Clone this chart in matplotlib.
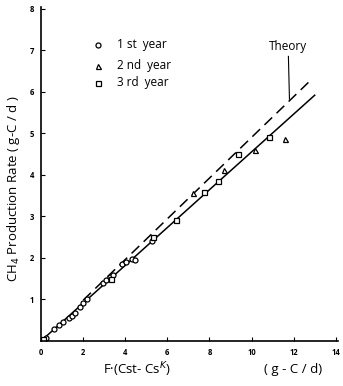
import numpy as np
import matplotlib.pyplot as plt

plt.rcParams['font.family'] = ['Open Sans', 'DejaVu Sans']

# 1st year (circles)
x1 = [0.25, 0.6, 0.85, 1.05, 1.3, 1.45, 1.6, 1.85, 2.0, 2.2, 2.95, 3.1, 3.25, 3.4, 3.85, 4.05, 4.3, 4.45, 5.25]
y1 = [0.08, 0.28, 0.38, 0.45, 0.55, 0.6, 0.66, 0.82, 0.9, 1.0, 1.4, 1.46, 1.53, 1.58, 1.84, 1.9, 1.98, 1.95, 2.4]
# 2nd year (triangles)
x2 = [7.2, 8.7, 10.15, 11.6]
y2 = [3.55, 4.12, 4.6, 4.85]
# 3rd year (squares)
x3 = [0.1, 3.3, 5.3, 6.4, 7.75, 8.4, 9.35, 10.85]
y3 = [0.05, 1.5, 2.5, 2.92, 3.58, 3.86, 4.51, 4.9]

fit_slope = 0.455
fit_end = 13.0
theory_slope = 0.49
theory_range = [2.0, 12.7]

xticks = [0, 2, 4, 6, 8, 10, 12, 14]
yticks = [1, 2, 3, 4, 5, 6, 7, 8]

fig = plt.figure(figsize=(3.43, 3.86), dpi=100)
ax = fig.add_axes([0.12, 0.117, 0.865, 0.866])

xs = np.array([0, fit_end])
ax.plot(xs, fit_slope * xs, color='black', lw=1.1)
xt = np.array(theory_range)
ax.plot(xt, theory_slope * xt, color='black', lw=1.1, dashes=(7, 4))

mk = dict(color='black', mfc='white', mec='black', mew=0.9, ls='none', ms=3.6)
ax.plot(x1, y1, marker='o', **mk)
ax.plot(x2, y2, marker='^', **mk)
ax.plot(x3, y3, marker='s', **mk)

# legend drawn by hand
lx, tx = 2.7, 3.6
for yy, m, lab in [(7.13, 'o', '1 st  year'), (6.62, '^', '2 nd  year'), (6.22, 's', '3 rd  year')]:
    ax.plot([lx], [yy], marker=m, **mk)
    ax.text(tx, yy, lab, fontsize=8.5, va='center', ha='left')

ax.text(11.75, 7.1, 'Theory', fontsize=8.5, ha='center', va='center')
ax.plot([11.75, 11.8], [6.85, 5.82], color='black', lw=0.8)

ax.set_xlim(0, 14.1)
ax.set_ylim(0, 8.05)
ax.set_xticks(xticks)
ax.set_yticks(yticks)
ax.tick_params(direction='in', length=3, width=0.8, labelsize=5.5, pad=5)
for lab in ax.get_xticklabels() + ax.get_yticklabels():
    lab.set_fontweight('bold')
ax.spines['top'].set_visible(False)
ax.spines['right'].set_visible(False)
for s in ['left', 'bottom']:
    ax.spines[s].set_linewidth(1.2)

fig.text(0.04, 0.51, 'CH$_4$ Production Rate ( g-C / d )', rotation=90,
         fontsize=9.5, ha='center', va='center')
fig.text(0.30, 0.042, 'F·(Cst- Cs$^{K}$)', fontsize=9.5, ha='left', va='center')
fig.text(0.77, 0.042, '( g - C / d)', fontsize=9.5, ha='left', va='center')

fig.savefig('out.png', dpi=100)
